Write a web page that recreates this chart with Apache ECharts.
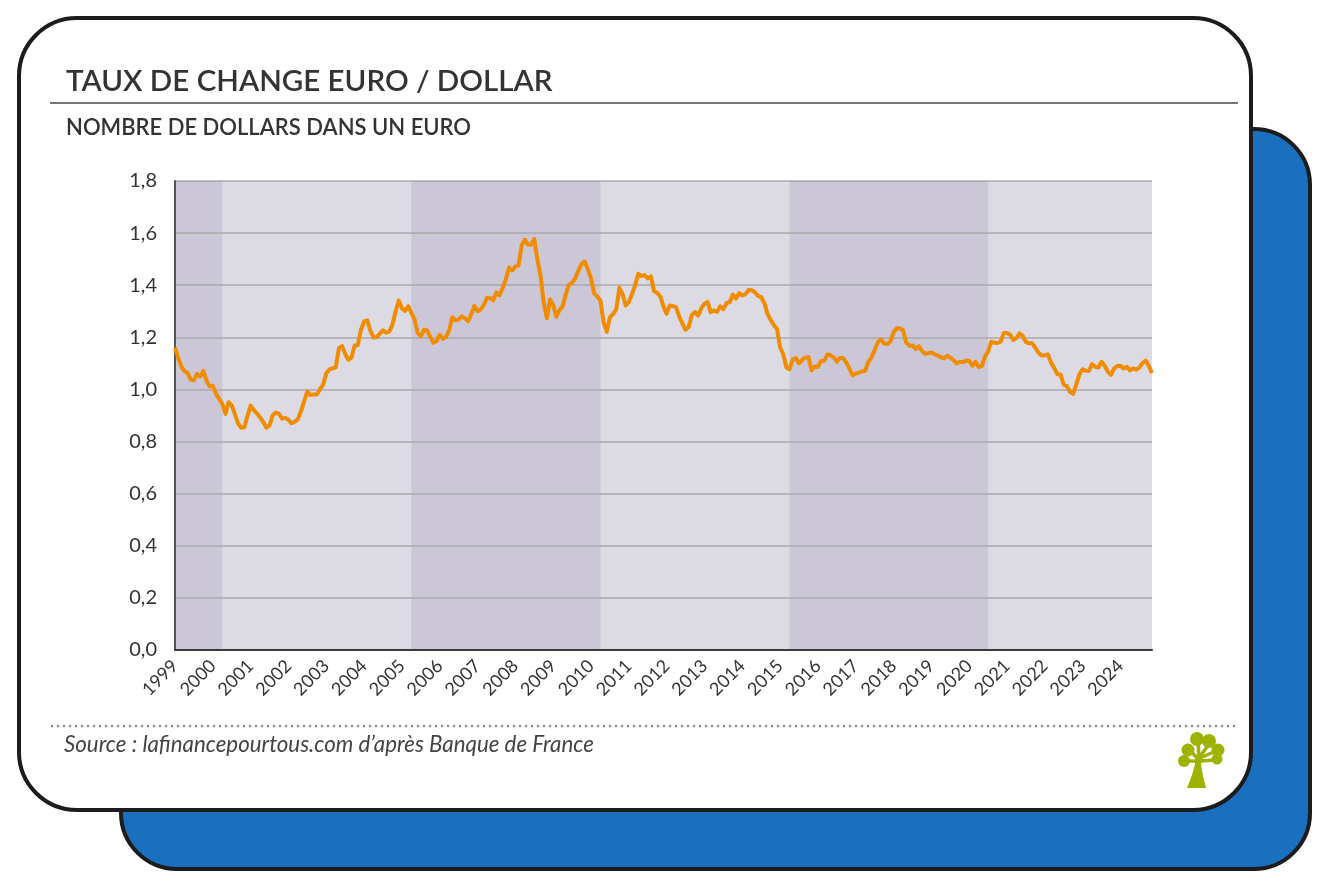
<!DOCTYPE html>
<html>
<head>
<meta charset="utf-8">
<script src="https://cdn.jsdelivr.net/npm/echarts@6/dist/echarts.min.js"></script>
<style>
html,body{margin:0;padding:0;background:#fff;}
#chart{width:1329px;height:890px;}
</style>
</head>
<body>
<div id="chart"></div>
<script>
const years = ['1999','2000','2001','2002','2003','2004','2005','2006','2007','2008','2009','2010','2011','2012','2013','2014','2015','2016','2017','2018','2019','2020','2021','2022','2023','2024'];

// Monthly EUR/USD rate (dollars per euro), Jan 1999 -> Nov 2024
const rates1999_2005 = [
  1.161,1.121,1.088,1.070,1.063,1.038,1.035,1.060,1.050,1.071,1.034,1.011,
  1.014,0.983,0.964,0.945,0.906,0.951,0.939,0.905,0.870,0.853,0.855,0.898,
  0.938,0.921,0.908,0.893,0.875,0.853,0.862,0.901,0.911,0.906,0.888,0.891,
  0.883,0.870,0.876,0.886,0.917,0.955,0.992,0.978,0.981,0.981,1.001,1.018,
  1.062,1.077,1.081,1.085,1.158,1.166,1.137,1.114,1.122,1.169,1.170,1.229,
  1.261,1.265,1.226,1.199,1.201,1.214,1.227,1.218,1.222,1.249,1.299,1.341,
  1.312,1.301,1.320,1.294,1.269,1.217,1.204,1.229,1.226,1.202,1.179,1.186
];
const rates2006_2012 = [
  1.210,1.194,1.202,1.227,1.277,1.265,1.268,1.281,1.273,1.261,1.288,1.321,
  1.300,1.307,1.324,1.352,1.351,1.342,1.372,1.362,1.390,1.423,1.468,1.457,
  1.472,1.475,1.553,1.575,1.556,1.555,1.577,1.498,1.437,1.332,1.273,1.345,
  1.324,1.279,1.305,1.319,1.365,1.402,1.409,1.427,1.456,1.482,1.491,1.461,
  1.427,1.369,1.357,1.341,1.257,1.221,1.277,1.289,1.307,1.390,1.366,1.322,
  1.336,1.365,1.400,1.444,1.435,1.439,1.426,1.434,1.377,1.371,1.356,1.318,
  1.291,1.322,1.320,1.316,1.279,1.253,1.229,1.240,1.286,1.297,1.283,1.312
];
const rates2013_2019 = [
  1.329,1.336,1.296,1.303,1.298,1.319,1.308,1.331,1.335,1.364,1.349,1.370,
  1.361,1.366,1.382,1.381,1.373,1.359,1.354,1.332,1.290,1.267,1.247,1.233,
  1.162,1.135,1.084,1.078,1.115,1.121,1.100,1.114,1.122,1.124,1.074,1.088,
  1.086,1.109,1.110,1.134,1.131,1.123,1.107,1.121,1.121,1.103,1.080,1.054,
  1.061,1.064,1.069,1.072,1.106,1.123,1.151,1.181,1.192,1.176,1.174,1.184,
  1.220,1.235,1.234,1.228,1.181,1.168,1.169,1.155,1.166,1.148,1.137,1.139,
  1.142,1.135,1.130,1.124,1.119,1.129,1.122,1.113,1.100,1.105,1.105,1.111
];
const rates2020_2024 = [
  1.110,1.091,1.106,1.086,1.090,1.126,1.146,1.183,1.179,1.178,1.184,1.217,
  1.217,1.210,1.190,1.198,1.215,1.205,1.182,1.177,1.177,1.160,1.141,1.130,
  1.131,1.134,1.102,1.082,1.058,1.057,1.018,1.013,0.990,0.983,1.020,1.059,
  1.077,1.072,1.071,1.097,1.087,1.084,1.106,1.091,1.068,1.056,1.081,1.090,
  1.091,1.080,1.087,1.073,1.081,1.076,1.084,1.101,1.111,1.090,1.063
];
const rates = [].concat(rates1999_2005, rates2006_2012, rates2013_2019, rates2020_2024);

// shaded periods (start month, end month)
const bandStarts = ['1999-01','2005-04','2015-04'];
const bandEnds   = ['2000-04','2010-04','2020-07'];

const titleText = 'TAUX DE CHANGE EURO / DOLLAR';
const subtitleText = 'NOMBRE DE DOLLARS DANS UN EURO';
const sourceText = 'Source : lafinancepourtous.com d\u2019après Banque de France';

const months = [];
years.forEach(y => {
  for (let m = 1; m <= 12; m++) months.push(y + '-' + (m < 10 ? '0' + m : '' + m));
});
const categories = months.slice(0, rates.length);

const chart = echarts.init(document.getElementById('chart'), null, {renderer: 'canvas'});

const INK = '#1c1c1c';
const GREEN = '#9db300';

const option = {
  backgroundColor: '#ffffff',
  animation: false,
  graphic: [
    { type: 'rect', z: -20, shape: {x: 121, y: 129, width: 1189, height: 740, r: 56},
      style: {fill: '#1a6fbf', stroke: INK, lineWidth: 4} },
    { type: 'rect', z: -10, shape: {x: 19, y: 18, width: 1232, height: 792, r: 58},
      style: {fill: '#ffffff', stroke: INK, lineWidth: 4} },
    { type: 'text', z: 10, x: 66, y: 81,
      style: {text: titleText, font: '600 29.5px Lato', fill: '#333333', verticalAlign: 'middle', textVerticalAlign: 'middle'} },
    { type: 'line', z: 10, shape: {x1: 50, y1: 103, x2: 1238, y2: 103},
      style: {stroke: '#777777', lineWidth: 2} },
    { type: 'text', z: 10, x: 66, y: 128,
      style: {text: subtitleText, font: '600 22px Lato', fill: '#333333', verticalAlign: 'middle', textVerticalAlign: 'middle'} },
    { type: 'line', z: 10, shape: {x1: 52, y1: 726, x2: 1238, y2: 726},
      style: {stroke: '#888888', lineWidth: 2.4, lineDash: [0.1, 5.9], lineCap: 'round'} },
    { type: 'text', z: 10, x: 64, y: 745,
      style: {text: sourceText, font: 'italic 22.3px Lato', fill: '#444444', verticalAlign: 'middle', textVerticalAlign: 'middle'} },
    { type: 'group', z: 10, children: [
      { type: 'polygon', shape: {points: [[1187,788],[1206,788],[1203,776],[1201,765],[1202,756],[1196,756],[1195,764],[1192,775]]}, style: {fill: GREEN} },
      { type: 'polyline', shape: {points: [[1198,761],[1186,761]]}, style: {stroke: GREEN, lineWidth: 3.5} },
      { type: 'polyline', shape: {points: [[1198,759],[1190,750]]}, style: {stroke: GREEN, lineWidth: 3.5} },
      { type: 'polyline', shape: {points: [[1199,758],[1198,741]]}, style: {stroke: GREEN, lineWidth: 3.5} },
      { type: 'polyline', shape: {points: [[1199,758],[1209,744]]}, style: {stroke: GREEN, lineWidth: 3.5} },
      { type: 'polyline', shape: {points: [[1200,758],[1216,751]]}, style: {stroke: GREEN, lineWidth: 3.5} },
      { type: 'polyline', shape: {points: [[1200,761],[1216,760]]}, style: {stroke: GREEN, lineWidth: 3.5} },
      { type: 'circle', shape: {cx: 1184, cy: 761, r: 6}, style: {fill: GREEN} },
      { type: 'circle', shape: {cx: 1188, cy: 750, r: 6.5}, style: {fill: GREEN} },
      { type: 'circle', shape: {cx: 1197, cy: 739, r: 7}, style: {fill: GREEN} },
      { type: 'circle', shape: {cx: 1209, cy: 741, r: 7}, style: {fill: GREEN} },
      { type: 'circle', shape: {cx: 1218, cy: 750, r: 6.5}, style: {fill: GREEN} },
      { type: 'circle', shape: {cx: 1217, cy: 759, r: 5.5}, style: {fill: GREEN} }
    ]}
  ],
  grid: {
    left: 175, right: 177, top: 181, bottom: 240,
    show: true, backgroundColor: '#dcdae3', borderWidth: 0, z: 0
  },
  xAxis: {
    type: 'category',
    data: categories,
    boundaryGap: false,
    z: 4,
    axisLine: {show: true, lineStyle: {color: '#3a3a3a', width: 2}},
    axisTick: {show: false},
    splitLine: {show: false},
    axisLabel: {
      interval: function (i) { return i % 12 === 0; },
      rotate: 45,
      margin: 13,
      color: '#333333',
      fontFamily: 'Lato',
      fontSize: 18,
      formatter: function (v) { return v.slice(0, 4); }
    }
  },
  yAxis: {
    type: 'value',
    min: 0, max: 1.8, interval: 0.2,
    z: 3,
    axisLine: {show: true, lineStyle: {color: '#555555', width: 2}},
    axisTick: {show: false},
    splitLine: {show: true, lineStyle: {color: '#a9a8ad', width: 1.5}},
    axisLabel: {
      margin: 18,
      color: '#333333',
      fontFamily: 'Lato',
      fontSize: 20,
      formatter: function (v) { return v.toFixed(1).replace('.', ','); }
    }
  },
  series: [
    {
      name: 'bands',
      type: 'line',
      z: 1,
      silent: true,
      data: [],
      markArea: {
        silent: true,
        itemStyle: {color: '#cbc7d6'},
        data: bandStarts.map((s, i) => [{xAxis: s}, {xAxis: bandEnds[i]}])
      }
    },
    {
      name: 'EUR/USD',
      type: 'line',
      z: 5,
      data: rates,
      symbol: 'none',
      smooth: false,
      lineStyle: {color: '#f08c00', width: 4, join: 'round'}
    }
  ]
};
chart.setOption(option);
</script>
</body>
</html>
